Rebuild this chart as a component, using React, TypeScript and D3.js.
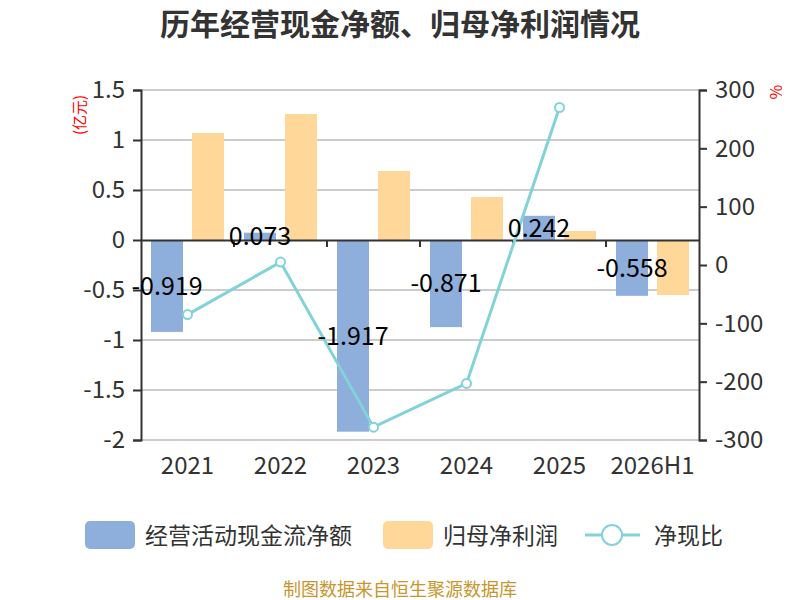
import React, {useEffect, useRef} from "react";
import * as d3 from "d3";

const categories = ["2021", "2022", "2023", "2024", "2025", "2026H1"]
const cashFlow = [-0.919, 0.073, -1.917, -0.871, 0.242, -0.558]
const netProfit = [1.07, 1.26, 0.69, 0.43, 0.09, -0.55]
const cashRatio: (number | null)[] = [-85, 5, -278, -203, 270, null]
const leftTicks = [1.5, 1, 0.5, 0, -0.5, -1, -1.5, -2]
const rightTicks = [300, 200, 100, 0, -100, -200, -300]

const FONT = "'Noto Sans CJK SC', 'Noto Sans', sans-serif"
const BLUE = "#8eaedb"
const ORANGE = "#ffd899"
const TEAL = "#82d3d8"

const App = () => {
    const svgRef = useRef(null)

    useEffect(() => {
        const svg = d3.select(svgRef.current)
        svg.selectAll("*").remove()

        const left = 141, right = 699, top = 90, bottom = 440

        const x = d3.scaleBand().domain(categories).range([left, right]).padding(0)
        const yL = d3.scaleLinear().domain([-2, 1.5]).range([bottom, top])
        const yR = d3.scaleLinear().domain([-300, 300]).range([bottom, top])
        const cx = (c: string) => (x(c) as number) + x.bandwidth() / 2
        const barW = 32
        const gap = 9

        // title
        svg.append("text")
            .attr("x", 400).attr("y", 35)
            .attr("text-anchor", "middle")
            .style("font-family", FONT).style("font-size", "30px").style("font-weight", "bold")
            .attr("fill", "#333")
            .text("历年经营现金净额、归母净利润情况")

        // grid
        svg.append("g").selectAll("line")
            .data(leftTicks.filter(t => t !== 0))
            .join("line")
            .attr("x1", left).attr("x2", right)
            .attr("y1", d => yL(d)).attr("y2", d => yL(d))
            .attr("stroke", "#ccc").attr("stroke-width", 2)

        // left axis
        const gL = svg.append("g").attr("transform", `translate(${left},0)`)
            .call(d3.axisLeft(yL).tickValues(leftTicks).tickSize(8).tickPadding(8).tickFormat(d => String(d)))
        gL.select(".domain").attr("stroke", "#333").attr("stroke-width", 2)
        gL.selectAll(".tick line").attr("stroke", "#333").attr("stroke-width", 2)
        gL.selectAll(".tick text").attr("fill", "#333").style("font-family", FONT).style("font-size", "24px")

        // right axis
        const gR = svg.append("g").attr("transform", `translate(${right},0)`)
            .call(d3.axisRight(yR).tickValues(rightTicks).tickSize(8).tickPadding(8).tickFormat(d => String(d)))
        gR.select(".domain").attr("stroke", "#333").attr("stroke-width", 2)
        gR.selectAll(".tick line").attr("stroke", "#333").attr("stroke-width", 2)
        gR.selectAll(".tick text").attr("fill", "#333").style("font-family", FONT).style("font-size", "24px")

        // units
        svg.append("text")
            .attr("transform", `translate(85,115) rotate(-90)`)
            .attr("text-anchor", "middle")
            .style("font-family", FONT).style("font-size", "15px")
            .attr("fill", "red").text("(亿元)")
        svg.append("text")
            .attr("transform", `translate(782,92) rotate(-90)`)
            .attr("text-anchor", "middle")
            .style("font-family", FONT).style("font-size", "16px")
            .attr("fill", "red").text("%")

        // bars
        svg.append("g").selectAll("rect")
            .data(cashFlow)
            .join("rect")
            .attr("x", (d, i) => cx(categories[i]) - gap / 2 - barW)
            .attr("width", barW)
            .attr("y", d => Math.min(yL(d), yL(0)))
            .attr("height", d => Math.abs(yL(d) - yL(0)))
            .attr("fill", BLUE)
        svg.append("g").selectAll("rect")
            .data(netProfit)
            .join("rect")
            .attr("x", (d, i) => cx(categories[i]) + gap / 2)
            .attr("width", barW)
            .attr("y", d => Math.min(yL(d), yL(0)))
            .attr("height", d => Math.abs(yL(d) - yL(0)))
            .attr("fill", ORANGE)

        // x axis on zero
        const gX = svg.append("g").attr("transform", `translate(0,${yL(0)})`)
            .call(d3.axisBottom(x).tickSize(0).tickFormat(() => ""))
        gX.select(".domain").attr("stroke", "#333").attr("stroke-width", 2)
        gX.selectAll(".tick").remove()
        gX.selectAll(".bound")
            .data(categories.slice(1))
            .join("line")
            .attr("x1", d => x(d) as number).attr("x2", d => x(d) as number)
            .attr("y1", 0).attr("y2", 7)
            .attr("stroke", "#333").attr("stroke-width", 2)

        svg.append("g").selectAll("text")
            .data(categories)
            .join("text")
            .attr("x", d => cx(d)).attr("y", 474)
            .attr("text-anchor", "middle")
            .style("font-family", FONT).style("font-size", "24px")
            .attr("fill", "#333")
            .text(d => d)

        // line
        const pts = cashRatio.map((v, i) => ({v, c: categories[i]})).filter(p => p.v !== null) as {v: number, c: string}[]
        const line = d3.line<{v: number, c: string}>().x(p => cx(p.c)).y(p => yR(p.v))
        svg.append("path")
            .datum(pts)
            .attr("d", line)
            .attr("fill", "none").attr("stroke", TEAL).attr("stroke-width", 3)
        svg.append("g").selectAll("circle")
            .data(pts)
            .join("circle")
            .attr("cx", p => cx(p.c)).attr("cy", p => yR(p.v)).attr("r", 4.5)
            .attr("fill", "#fff").attr("stroke", TEAL).attr("stroke-width", 2)

        // bar labels
        svg.append("g").selectAll("text")
            .data(cashFlow)
            .join("text")
            .attr("x", (d, i) => cx(categories[i]) - gap / 2 - barW / 2)
            .attr("y", d => (yL(d) + yL(0)) / 2)
            .attr("dy", "0.35em")
            .attr("text-anchor", "middle")
            .style("font-family", FONT).style("font-size", "25px")
            .attr("fill", "#000")
            .text(d => String(d))

        // legend
        const lg = svg.append("g").style("font-family", FONT).style("font-size", "23px").attr("fill", "#333")
        lg.append("rect").attr("x", 85).attr("y", 521).attr("width", 50).attr("height", 28).attr("rx", 5).attr("fill", BLUE)
        lg.append("text").attr("x", 145).attr("y", 544).text("经营活动现金流净额")
        lg.append("rect").attr("x", 383).attr("y", 521).attr("width", 50).attr("height", 28).attr("rx", 5).attr("fill", ORANGE)
        lg.append("text").attr("x", 443).attr("y", 544).text("归母净利润")
        lg.append("line").attr("x1", 585).attr("x2", 640).attr("y1", 535).attr("y2", 535).attr("stroke", TEAL).attr("stroke-width", 3)
        lg.append("circle").attr("cx", 612).attr("cy", 535).attr("r", 10).attr("fill", "#fff").attr("stroke", TEAL).attr("stroke-width", 2)
        lg.append("text").attr("x", 654).attr("y", 544).text("净现比")

        // source
        svg.append("text")
            .attr("x", 400).attr("y", 596)
            .attr("text-anchor", "middle")
            .style("font-family", FONT).style("font-size", "18px")
            .attr("fill", "#c8962e")
            .text("制图数据来自恒生聚源数据库")
    }, [])

    return (
        <svg ref={svgRef} width={800} height={600}
             style={{position: "absolute", left: 0, top: 0, background: "#fff"}}/>
    )
}

export default App
